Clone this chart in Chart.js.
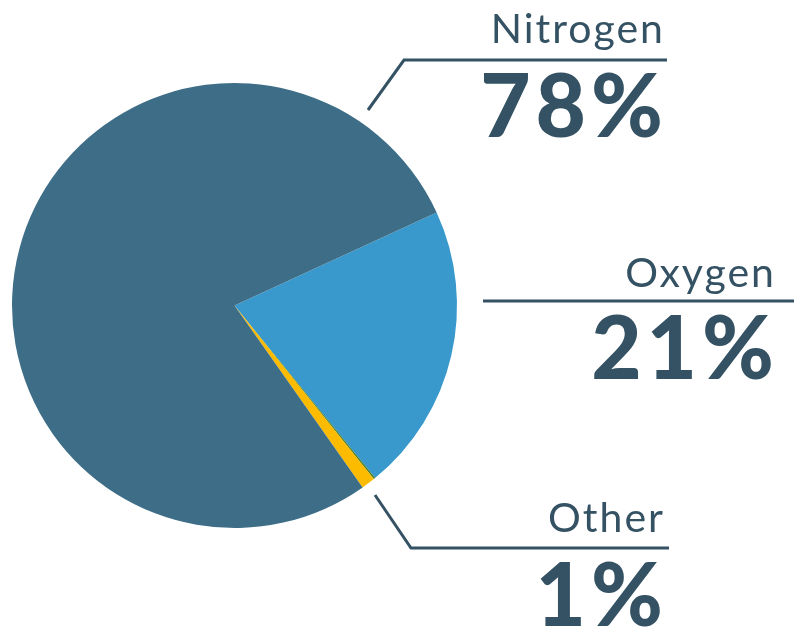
<!DOCTYPE html>
<html>
<head>
<meta charset="utf-8">
<script src="https://cdn.jsdelivr.net/npm/chart.js@4"></script>
<style>
  html, body { margin: 0; padding: 0; background: #fff; }
  #wrap { width: 803px; height: 633px; position: relative; }
</style>
</head>
<body>
<div id="wrap"><canvas id="air-chart"></canvas></div>
<script>
// Air composition
const gases = ["Oxygen", "Trace", "Other", "Nitrogen"];
const shares = [21, 0.12, 1, 78];
const sliceColors = ["#3999cc", "#4b7f1e", "#fdbb00", "#3e6e87"];

// callouts on the right
const calloutNames = ["Nitrogen", "Oxygen", "Other"];
const calloutValues = ["78%", "21%", "1%"];

const textColor = "#345263";

const calloutPlugin = {
  id: "callouts",
  afterDraw(chart) {
    const c = chart.ctx;
    c.save();
    c.strokeStyle = textColor;
    c.fillStyle = textColor;
    c.lineWidth = 3;
    c.lineJoin = "miter";

    // leader lines
    c.beginPath();
    c.moveTo(368, 110);
    c.lineTo(404, 60);
    c.lineTo(667, 60);
    c.stroke();

    c.beginPath();
    c.moveTo(483, 301);
    c.lineTo(794, 301);
    c.stroke();

    c.beginPath();
    c.moveTo(375, 495);
    c.lineTo(411, 548);
    c.lineTo(669, 548);
    c.stroke();

    // texts
    c.textAlign = "right";
    c.textBaseline = "alphabetic";
    const spots = [
      { x: 663, y: 43, vy: 137 },
      { x: 774, y: 287, vy: 379 },
      { x: 663, y: 532, vy: 626 }
    ];
    spots.forEach((s, i) => {
      c.font = "400 41px Lato";
      c.letterSpacing = "2px";
      c.fillText(calloutNames[i], s.x + 2, s.y);
      c.font = "900 87px Lato";
      c.letterSpacing = "5px";
      c.fillText(calloutValues[i], s.x + 5, s.vy);
    });
    c.restore();
  }
};

new Chart(document.getElementById("air-chart"), {
  type: "pie",
  data: {
    labels: gases,
    datasets: [{
      data: shares,
      backgroundColor: sliceColors,
      borderWidth: 0
    }]
  },
  options: {
    responsive: true,
    maintainAspectRatio: false,
    animation: false,
    rotation: 65.3,
    layout: { padding: { left: 12, top: 83, right: 346, bottom: 105 } },
    plugins: {
      legend: { display: false },
      tooltip: { enabled: false }
    }
  },
  plugins: [calloutPlugin]
});
</script>
</body>
</html>
